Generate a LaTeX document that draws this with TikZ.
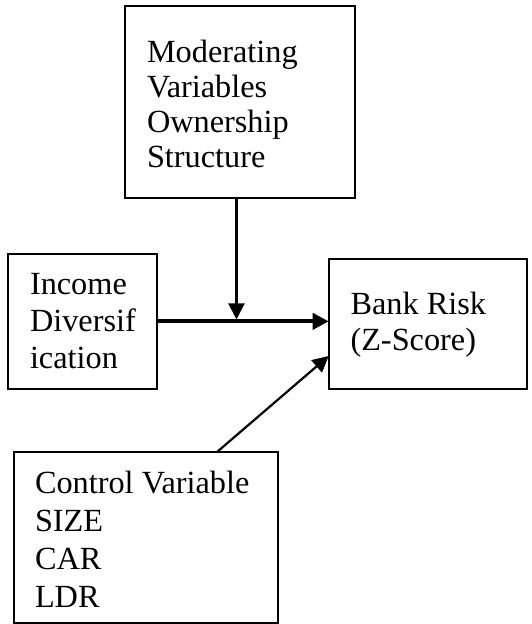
\documentclass[tikz,border=0pt]{standalone}
\usepackage{fontspec}
\setmainfont{Liberation Serif}
\usetikzlibrary{arrows.meta}
\begin{document}
\begin{tikzpicture}[x=1pt,y=-1pt,
  box/.style={draw, line width=2pt, rectangle, inner sep=0pt, outer sep=0pt},
  boxtext/.style={anchor=base west, inner sep=0pt, outer sep=0pt, align=left},
  link/.style={line width=2.2pt, -{Triangle[length=16pt,width=16pt]}},
  mainlink/.style={line width=3.8pt, -{Triangle[length=16pt,width=16pt]}},
]
\useasboundingbox (0,0) rectangle (532,624);

% boxes
\node[box, minimum width=230pt, minimum height=191.5pt] (mod) at (240,102) {};
\node[box, minimum width=149.2pt, minimum height=135.3pt] (inc) at (82.4,321.35) {};
\node[box, minimum width=198.3pt, minimum height=129.7pt] (risk) at (427.85,324.15) {};
\node[box, minimum width=263.4pt, minimum height=171pt] (ctrl) at (146,537.5) {};

% box texts (anchored at the baseline of their last line)
\node[boxtext, font=\fontsize{32.3}{35}\selectfont] (modtext) at (147,167)
  {Moderating\\Variables\\Ownership\\Structure};
\node[boxtext, font=\fontsize{32.3}{37}\selectfont] (inctext) at (30,368)
  {Income\\Diversif\\ication};
\node[boxtext, font=\fontsize{32.3}{36}\selectfont] (risktext) at (350.5,350)
  {Bank Risk\\(Z-Score)};
\node[boxtext, font=\fontsize{32.3}{38}\selectfont] (ctrltext) at (35,607.7)
  {Control Variable\\SIZE\\CAR\\LDR};

% connectors
\draw[mainlink] (inc.east) -- (inc.east -| risk.west);
\coordinate (join) at ([yshift=1.9pt]inc.east -| mod.south);
\draw[link] ([xshift=-3.5pt]mod.south) -- ([xshift=-3.5pt]join);
\draw[link] ([xshift=202.7pt]ctrl.north west) -- ([yshift=-96.7pt]risk.north west);
\end{tikzpicture}
\end{document}
